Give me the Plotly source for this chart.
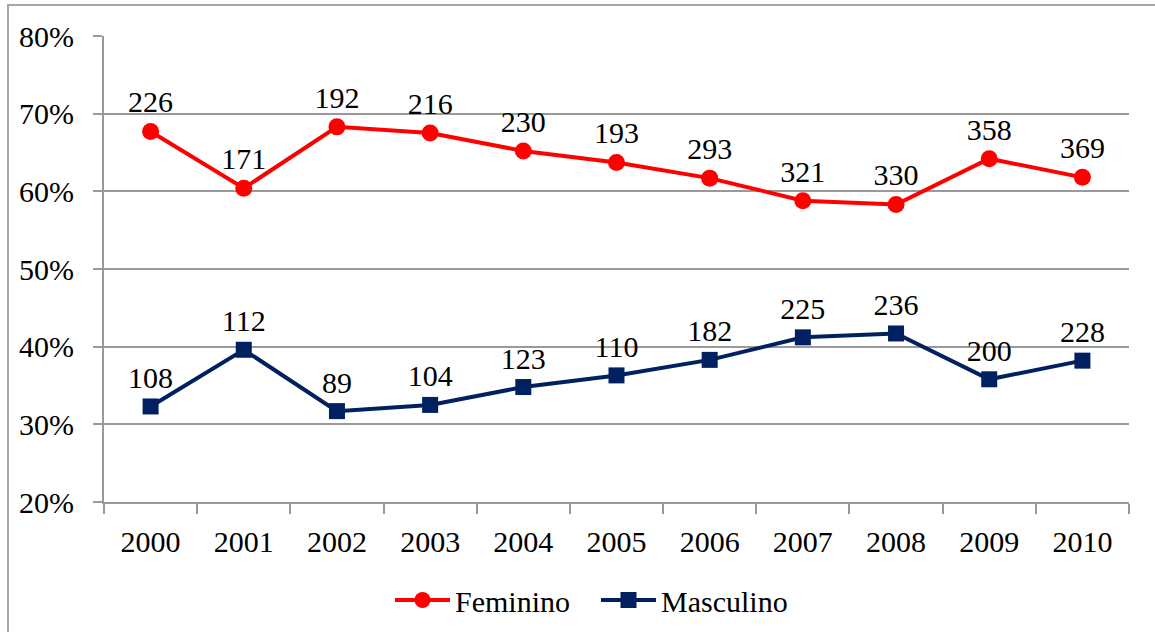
import plotly.graph_objects as go

years = ["2000", "2001", "2002", "2003", "2004", "2005", "2006", "2007", "2008", "2009", "2010"]
fem_pct = [0.677, 0.604, 0.683, 0.675, 0.652, 0.637, 0.617, 0.588, 0.583, 0.642, 0.618]
masc_pct = [0.323, 0.396, 0.317, 0.325, 0.348, 0.363, 0.383, 0.412, 0.417, 0.358, 0.382]
fem_n = [226, 171, 192, 216, 230, 193, 293, 321, 330, 358, 369]
masc_n = [108, 112, 89, 104, 123, 110, 182, 225, 236, 200, 228]

FONT = "Liberation Serif"
GRID = "#9a9a9a"
FS = 30

fig = go.Figure()
fig.add_trace(go.Scatter(
    x=years, y=fem_pct, name="Feminino", mode="lines+markers+text",
    text=[str(v) for v in fem_n], textposition="top center",
    textfont=dict(family=FONT, size=FS, color="black"),
    line=dict(color="#FF0000", width=4),
    marker=dict(symbol="circle", size=17, color="#FF0000"),
))
fig.add_trace(go.Scatter(
    x=years, y=masc_pct, name="Masculino", mode="lines+markers+text",
    text=[str(v) for v in masc_n], textposition="top center",
    textfont=dict(family=FONT, size=FS, color="black"),
    line=dict(color="#002060", width=4),
    marker=dict(symbol="square", size=16, color="#002060"),
))

L, R, T, B = 104, 26, 36, 130
W, H = 1155, 632
pw, ph = W - L - R, H - T - B

fig.update_layout(
    width=W, height=H,
    margin=dict(l=L, r=R, t=T, b=B, autoexpand=False),
    paper_bgcolor="white", plot_bgcolor="white",
    font=dict(family=FONT, size=FS, color="black"),
    showlegend=True,
    legend=dict(orientation="h", x=(390 - L) / pw, xanchor="left", y=(502 - 600) / ph, yanchor="middle",
                font=dict(family=FONT, size=FS), itemwidth=55, entrywidth=136, tracegroupgap=0),
    shapes=[dict(type="rect", xref="paper", yref="paper",
                 x0=(8 - L) / pw, x1=1.3, y0=-0.6, y1=1 + (T - 5) / ph,
                 line=dict(color="#a6a6a6", width=2), fillcolor="rgba(0,0,0,0)", layer="below")],
)
fig.update_xaxes(
    type="category", tickson="boundaries", ticks="outside", ticklen=10, tickwidth=2,
    tickcolor=GRID, showline=True, linecolor=GRID, linewidth=2, showgrid=False,
    tickfont=dict(family=FONT, size=FS), range=[-0.5, 10.5], ticklabelstandoff=12,
    automargin=False,
)
fig.update_yaxes(
    range=[0.2, 0.8], dtick=0.1, tickformat=".0%", ticks="outside", ticklen=9, tickwidth=2,
    tickcolor=GRID, showline=True, linecolor=GRID, linewidth=2, showgrid=True,
    gridcolor=GRID, gridwidth=2, zeroline=False, tickfont=dict(family=FONT, size=FS),
    ticklabelstandoff=13, automargin=False,
)

fig.write_html("out.html", config={"displayModeBar": False},
               post_script="document.body.style.margin='0';document.body.style.overflow='hidden';")
